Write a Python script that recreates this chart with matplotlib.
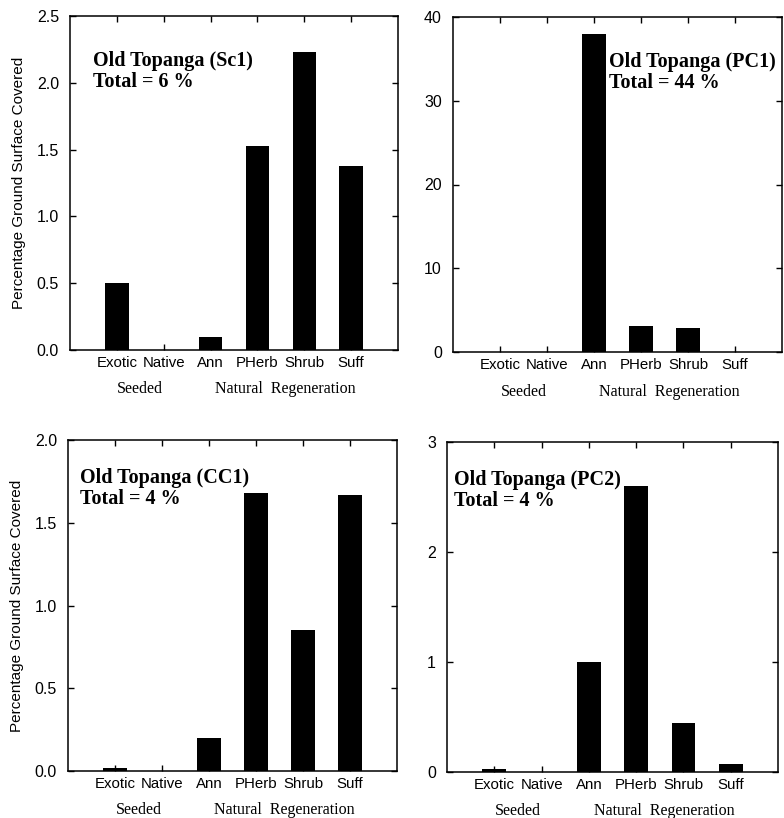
# Old Topanga ground cover, four sites

import matplotlib
matplotlib.use("Agg")
import matplotlib.pyplot as plt

categories = ["Exotic", "Native", "Ann", "PHerb", "Shrub", "Suff"]
groups = ["Seeded", "Natural  Regeneration"]

sc1 = [0.5, 0.0, 0.1, 1.53, 2.23, 1.38]
pc1 = [0.0, 0.0, 38.0, 3.1, 2.9, 0.0]
cc1 = [0.02, 0.0, 0.2, 1.68, 0.85, 1.67]
pc2 = [0.03, 0.0, 1.0, 2.6, 0.45, 0.07]

titles = ["Old Topanga (Sc1)\nTotal = 6 %", "Old Topanga (PC1)\nTotal = 44 %",
          "Old Topanga (CC1)\nTotal = 4 %", "Old Topanga (PC2)\nTotal = 4 %"]

W, H = 784, 818
fig = plt.figure(figsize=(W / 100, H / 100), dpi=100)


def box(l, r, t, b):
    return [l / W, (H - b) / H, (r - l) / W, (b - t) / H]


panels = [
    (box(70, 398, 16, 350), sc1, (0, 2.5), [0, 0.5, 1.0, 1.5, 2.0, 2.5], "{:.1f}", (0.07, 0.895), True),
    (box(453, 782, 17, 352), pc1, (0, 40), [0, 10, 20, 30, 40], "{:.0f}", (0.475, 0.895), False),
    (box(68, 397, 440, 771), cc1, (0, 2.0), [0, 0.5, 1.0, 1.5, 2.0], "{:.1f}", (0.036, 0.915), True),
    (box(447, 778, 442, 772), pc2, (0, 3), [0, 1, 2, 3], "{:.0f}", (0.02, 0.915), False),
]

pos = list(range(1, len(categories) + 1))

for (rect, vals, ylim, yt, fmt, tpos, ylab), title in zip(panels, titles):
    ax = fig.add_axes(rect)
    ax.bar(pos, vals, width=0.5, color="black")
    ax.set_xlim(0, 7)
    ax.set_ylim(*ylim)
    ax.set_yticks(yt)
    ax.set_yticklabels([fmt.format(v) for v in yt], family="Liberation Sans", fontsize=11.5)
    ax.set_xticks(pos)
    ax.set_xticklabels(categories, family="Liberation Sans", fontsize=10.8)
    ax.tick_params(direction="in", top=True, right=True, length=4, width=1)
    ax.tick_params(axis="x", pad=4)
    ax.tick_params(axis="y", pad=8)
    for s in ax.spines.values():
        s.set_linewidth(1.1)
    ax.text(tpos[0], tpos[1], title, transform=ax.transAxes, va="top", ha="left",
            family="Liberation Serif", fontweight="bold", fontsize=14.5, linespacing=1.05)
    # group labels under the category names
    ax.text(1.5, -0.118, groups[0], transform=ax.get_xaxis_transform(), ha="center",
            va="center", family="Liberation Serif", fontsize=11.5)
    ax.text(4.6, -0.118, groups[1], transform=ax.get_xaxis_transform(), ha="center",
            va="center", family="Liberation Serif", fontsize=11.5)
    if ylab:
        ax.set_ylabel("Percentage Ground Surface Covered", family="Liberation Sans",
                      fontsize=11, labelpad=8)

fig.savefig("out.png", dpi=100)
